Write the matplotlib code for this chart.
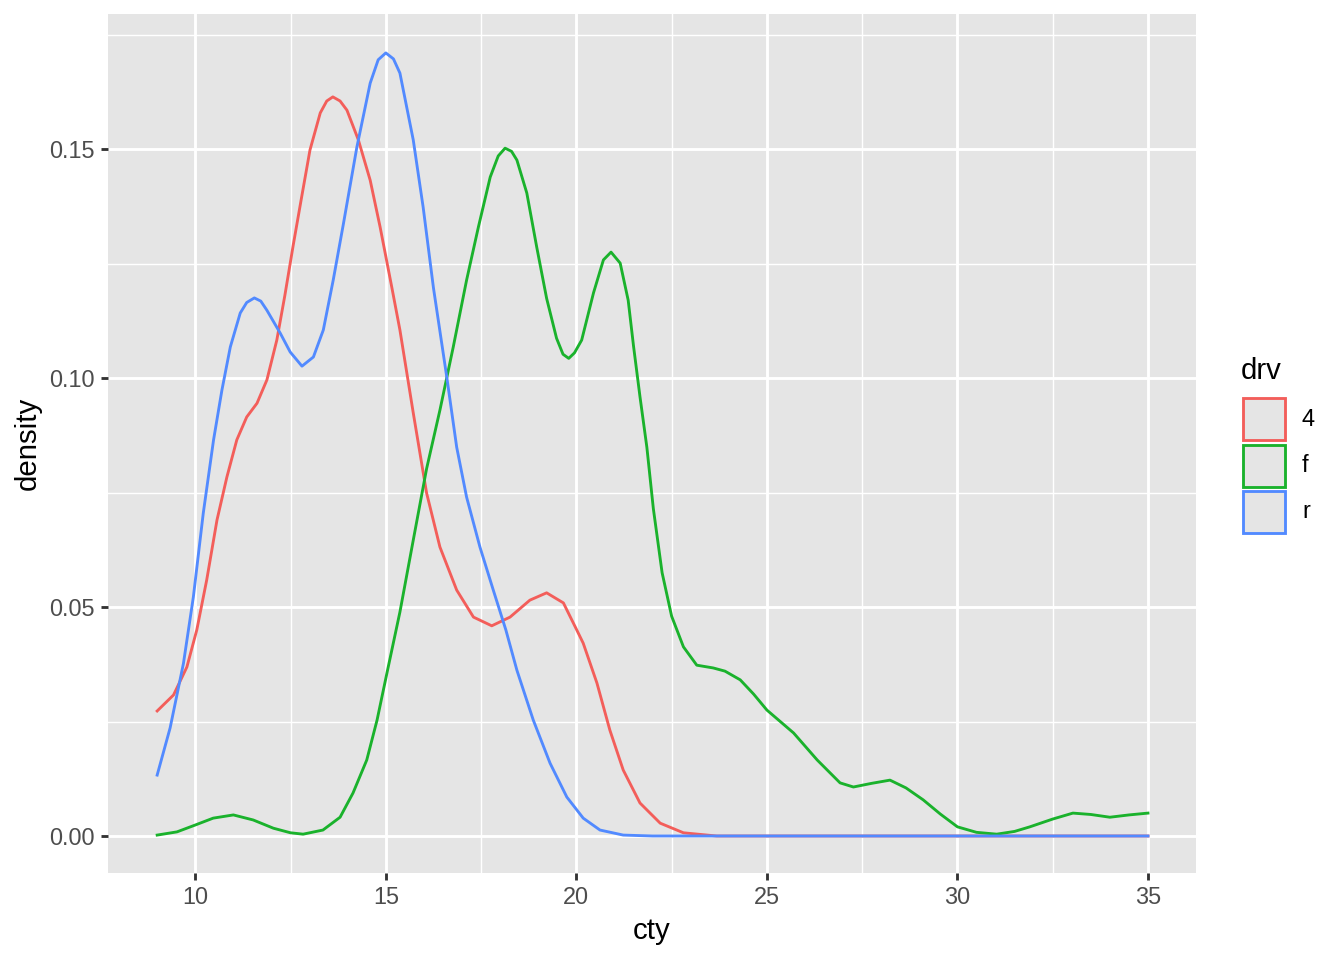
import matplotlib
matplotlib.use("Agg")
import matplotlib.pyplot as plt
from matplotlib.patches import Rectangle
from matplotlib.ticker import MultipleLocator, FormatStrFormatter

plt.rcParams['font.family'] = ['Liberation Sans', 'DejaVu Sans']

# density curves of cty by drv
x_4 = [9.0, 9.43, 9.78, 10.04, 10.3, 10.57, 10.83, 11.09, 11.35, 11.62, 11.88, 12.14,
       12.35, 12.57, 12.78, 13.01, 13.28, 13.45, 13.61, 13.8, 13.98, 14.28, 14.59,
       14.85, 15.16, 15.37, 15.72, 16.07, 16.42, 16.86, 17.3, 17.78, 18.26, 18.78, 19.22,
       19.66, 20.01, 20.18, 20.54, 20.88, 21.23, 21.67, 22.2, 22.81, 23.68, 35.0]
y_4 = [0.0273, 0.0308, 0.0369, 0.045, 0.0559, 0.069, 0.0784, 0.0865, 0.0915, 0.0945,
       0.0996, 0.1083, 0.118, 0.129, 0.139, 0.1498, 0.1579, 0.1605, 0.1614,
       0.1605, 0.1585, 0.152, 0.1432, 0.133, 0.1197, 0.1105, 0.0924, 0.0749, 0.0631,
       0.0537, 0.0478, 0.0459, 0.0478, 0.0515, 0.0531, 0.0509, 0.045, 0.0421, 0.0334,
       0.0231, 0.0144, 0.0072, 0.0028, 0.0007, 0.0, 0.0]

x_f = [9.0, 9.52, 10.0, 10.47, 11.0, 11.52, 12.05, 12.5, 12.83, 13.35, 13.8, 14.14, 14.5,
       14.77, 15.03, 15.37, 15.72, 16.07, 16.42, 16.77, 17.12, 17.43, 17.74, 17.95, 18.13,
       18.3, 18.44, 18.7, 18.96, 19.22, 19.48, 19.65, 19.8, 19.95, 20.14, 20.45, 20.71,
       20.91, 21.15, 21.36, 21.5, 21.67, 21.85, 22.02, 22.25, 22.5, 22.81, 23.16, 23.59,
       23.9, 24.3, 24.65, 25.0, 25.7, 26.32, 26.92, 27.27, 27.75, 28.23, 28.65, 29.1,
       29.55, 30.0, 30.5, 31.03, 31.5, 31.9, 32.5, 33.03, 33.5, 34.0, 34.5, 35.0]
y_f = [0.0002, 0.0009, 0.0024, 0.0039, 0.0046, 0.0035, 0.0017, 0.0007, 0.0004, 0.0013,
       0.0041, 0.0094, 0.0166, 0.0253, 0.0356, 0.0489, 0.0646, 0.0802, 0.093, 0.1068,
       0.1214, 0.1330, 0.1439, 0.1485, 0.1502, 0.1495, 0.1476, 0.1404, 0.1286, 0.1174,
       0.1087, 0.1052, 0.1043, 0.1055, 0.1083, 0.1186, 0.1258, 0.1275, 0.1251, 0.117,
       0.107, 0.0959, 0.0849, 0.0715, 0.0575, 0.0480, 0.0413, 0.0373, 0.0367, 0.036,
       0.0341, 0.031, 0.0275, 0.0225, 0.0166, 0.0116, 0.0107, 0.0115, 0.0122, 0.0105,
       0.0079, 0.0048, 0.0020, 0.0008, 0.0004, 0.0010, 0.0020, 0.0037, 0.0050, 0.0047,
       0.0041, 0.0046, 0.0050]

x_r = [9.0, 9.34, 9.69, 9.95, 10.21, 10.48, 10.7, 10.92, 11.18, 11.35, 11.55, 11.72,
       11.88, 12.23, 12.49, 12.8, 13.1, 13.36, 13.62, 13.89, 14.24, 14.59, 14.8, 15.0,
       15.2, 15.37, 15.72, 15.98, 16.25, 16.6, 16.86, 17.12, 17.47, 17.82, 18.15, 18.44,
       18.87, 19.31, 19.75, 20.18, 20.62, 21.23, 22.0, 35.0]
y_r = [0.0133, 0.0236, 0.0377, 0.0522, 0.0705, 0.0865, 0.0974, 0.1068, 0.1142, 0.1165,
       0.1175, 0.1168, 0.1148, 0.1098, 0.1057, 0.1026, 0.1046, 0.1105, 0.1214, 0.1338,
       0.1504, 0.1644, 0.1695, 0.171, 0.1697, 0.1666, 0.152, 0.1373, 0.1197, 0.1002,
       0.0849, 0.074, 0.0631, 0.0537, 0.045, 0.0362, 0.0253, 0.0159, 0.0085, 0.0039,
       0.0013, 0.0002, 0.0, 0.0]

groups = ['4', 'f', 'r']
colors = ['#F35E5A', '#1AB22C', '#528AFF']

fig = plt.figure(figsize=(7, 5), dpi=192)
ax = fig.add_axes([108 / 1344, 1 - 873 / 960, 1088 / 1344, 859 / 960])
ax.set_facecolor('#E5E5E5')

for xs, ys, c in zip([x_4, x_f, x_r], [y_4, y_f, y_r], colors):
    ax.plot(xs, ys, color=c, lw=1.07, solid_joinstyle='round', zorder=3)

ax.set_xlim(7.71, 36.26)
ax.set_ylim(-0.00808, 0.1795)
ax.xaxis.set_major_locator(MultipleLocator(5))
ax.xaxis.set_minor_locator(MultipleLocator(2.5))
ax.yaxis.set_major_locator(MultipleLocator(0.05))
ax.yaxis.set_minor_locator(MultipleLocator(0.025))
ax.yaxis.set_major_formatter(FormatStrFormatter('%.2f'))

ax.grid(which='major', color='white', lw=1.07, zorder=1)
ax.grid(which='minor', color='white', lw=0.53, zorder=1)
ax.set_axisbelow(True)
for s in ax.spines.values():
    s.set_visible(False)

ax.tick_params(which='major', length=2.75, width=1.07, color='#333333',
               labelsize=8.8, labelcolor='#4D4D4D', pad=2.2)
ax.tick_params(which='minor', length=0)

ax.set_xlabel('cty', fontsize=11, labelpad=2.75)
ax.set_ylabel('density', fontsize=11, labelpad=2.75)

# legend
fig.text(1241 / 1344, 1 - 371 / 960, 'drv', fontsize=11, ha='left', va='center')
key_tops = [398, 445, 491]
for top, c, g in zip(key_tops, colors, groups):
    fig.add_artist(Rectangle((1243 / 1344, 1 - (top + 42) / 960), 42 / 1344, 42 / 960,
                             transform=fig.transFigure, facecolor='#E5E5E5',
                             edgecolor=c, lw=1.07))
    fig.text(1302 / 1344, 1 - (top + 21) / 960, g, fontsize=8.8, ha='left', va='center')

fig.savefig('out.png', dpi=192)
